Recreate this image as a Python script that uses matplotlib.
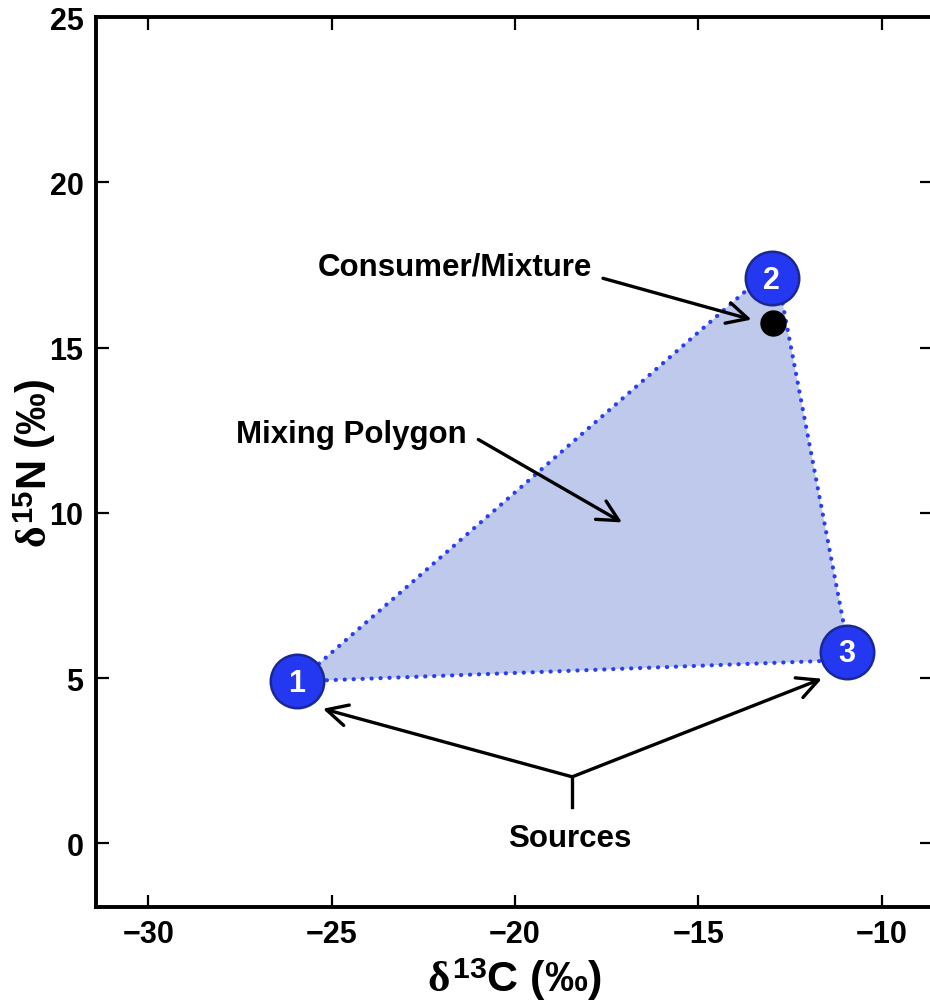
import numpy as np
import matplotlib.pyplot as plt
from matplotlib.patches import Polygon

plt.rcParams['font.family'] = ['Liberation Sans', 'DejaVu Sans']
plt.rcParams['font.weight'] = 'bold'
plt.rcParams['mathtext.fontset'] = 'custom'
plt.rcParams['mathtext.rm'] = 'Liberation Sans:bold'
plt.rcParams['mathtext.bf'] = 'Liberation Sans:bold'
plt.rcParams['mathtext.it'] = 'Liberation Serif:bold'

# source means (d13C, d15N)
source_ids = ['1', '2', '3']
source_c13 = [-25.95, -13.0, -10.95]
source_n15 = [4.9, 17.1, 5.8]

# corners of the mixing polygon
hull_c13 = [-25.9, -12.9, -10.85]
hull_n15 = [4.9, 17.5, 5.55]

# consumer / mixture
mix_c13 = -12.97
mix_n15 = 15.75

x_ticks = [-30, -25, -20, -15, -10]
y_ticks = [0, 5, 10, 15, 20, 25]

fill_col = '#BEC9EC'
edge_col = '#2A3EF2'
circ_col = '#2338F0'
circ_edge = '#1A2896'

fig = plt.figure(figsize=(9.3, 10.04), dpi=100)
ax = fig.add_axes([96 / 930, 96 / 1004, 836 / 930, 889.7 / 1004])
ax.set_xlim(-31.426, -8.628)
ax.set_ylim(-1.93, 25)

# polygon fill and dotted outline
poly = Polygon(np.column_stack([hull_c13, hull_n15]), closed=True,
               facecolor=fill_col, edgecolor='none', zorder=1)
ax.add_patch(poly)
ax.plot(hull_c13 + hull_c13[:1], hull_n15 + hull_n15[:1], color=edge_col,
        linewidth=3.0, linestyle=(0, (0.05, 2.1)), dash_capstyle='round', zorder=2)

# consumer point
ax.plot([mix_c13], [mix_n15], 'o', color='black', markersize=18, zorder=4)

# numbered source circles
ax.scatter(source_c13, source_n15, s=38.5 ** 2, color=circ_col, edgecolor=circ_edge,
           linewidth=1.8, zorder=5)
for sid, cx, cy in zip(source_ids, source_c13, source_n15):
    ax.text(cx, cy - 0.05, sid, color='white', fontsize=22, fontweight='bold',
            ha='center', va='center', zorder=6)

arrow = dict(arrowstyle='->,head_length=0.75,head_width=0.38', color='black',
             linewidth=2.4, mutation_scale=20, shrinkA=0, shrinkB=0)

# annotations
ax.text(-21.64, 17.47, 'Consumer/Mixture', fontsize=22.5, fontweight='bold',
        ha='center', va='center', zorder=7)
ax.annotate('', xy=(-13.55, 15.85), xytext=(-17.6, 17.1), arrowprops=arrow, zorder=7)

ax.text(-24.47, 12.4, 'Mixing Polygon', fontsize=22.5, fontweight='bold',
        ha='center', va='center', zorder=7)
ax.annotate('', xy=(-17.08, 9.71), xytext=(-21.0, 12.22), arrowprops=arrow, zorder=7)

ax.text(-18.5, 0.15, 'Sources', fontsize=22.5, fontweight='bold',
        ha='center', va='center', zorder=7)
ax.plot([-18.44, -18.44], [1.1, 2.01], color='black', linewidth=2.4, zorder=7)
ax.annotate('', xy=(-25.24, 4.07), xytext=(-18.44, 2.01), arrowprops=arrow, zorder=7)
ax.annotate('', xy=(-11.63, 4.98), xytext=(-18.44, 2.01), arrowprops=arrow, zorder=7)

# axes styling
ax.set_xticks(x_ticks)
ax.set_yticks(y_ticks)
ax.set_xticklabels([str(t).replace('-', '\u2212') for t in x_ticks])
ax.tick_params(direction='in', length=9, width=1.6, labelsize=22, top=True, right=True,
               pad=9)
for lab in ax.get_xticklabels() + ax.get_yticklabels():
    lab.set_fontweight('bold')
for sp in ax.spines.values():
    sp.set_linewidth(2.8)

ax.set_xlabel(r'$\delta^{13}$C (‰)', fontsize=31, fontweight='bold', labelpad=4)
ax.set_ylabel(r'$\delta^{15}$N (‰)', fontsize=30, fontweight='bold')
ax.yaxis.set_label_coords(-0.046, 0.5)

fig.savefig('out.png', dpi=100)
